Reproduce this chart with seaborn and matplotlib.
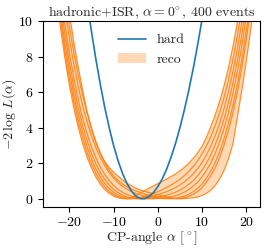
import matplotlib.pyplot as plt
import numpy as np
import pandas as pd
import seaborn as sns
from matplotlib.lines import Line2D
from matplotlib.patches import Patch

# CP angle grid (degrees) shared by the reco pseudo-experiments
alpha_reco = list(range(-23, 23))

reco_1 = [11.58, 9.60, 7.88, 6.39, 5.11, 4.02, 3.10, 2.34, 1.72, 1.22, 0.82, 0.52, 0.30, 0.15, 0.05, 0.01,
          0.00, 0.04, 0.16, 0.32, 0.46, 0.59, 0.72, 0.85, 0.98, 1.11, 1.25, 1.40, 1.57, 1.77, 2.00, 2.27,
          2.58, 2.95, 3.45, 4.07, 4.73, 5.49, 6.37, 7.39, 8.57, 9.92, 11.46, 13.21, 15.19, 17.43]
reco_2 = [12.06, 10.05, 8.30, 6.78, 5.47, 4.35, 3.40, 2.61, 1.96, 1.43, 1.00, 0.67, 0.42, 0.24, 0.11, 0.04,
          0.00, 0.00, 0.03, 0.07, 0.14, 0.21, 0.30, 0.40, 0.51, 0.64, 0.77, 0.93, 1.10, 1.30, 1.54, 1.81,
          2.14, 2.52, 2.97, 3.50, 4.13, 4.86, 5.71, 6.70, 7.85, 9.17, 10.68, 12.40, 14.35, 16.56]
reco_3 = [12.57, 10.54, 8.75, 7.20, 5.86, 4.71, 3.74, 2.92, 2.23, 1.67, 1.22, 0.86, 0.57, 0.36, 0.21, 0.10,
          0.04, 0.01, 0.00, 0.02, 0.05, 0.10, 0.16, 0.23, 0.31, 0.40, 0.51, 0.63, 0.78, 0.95, 1.15, 1.40,
          1.69, 2.04, 2.47, 2.97, 3.56, 4.26, 5.09, 6.05, 7.16, 8.45, 9.93, 11.62, 13.55, 15.72]
reco_4 = [13.13, 11.06, 9.25, 7.67, 6.30, 5.12, 4.11, 3.26, 2.55, 1.96, 1.47, 1.08, 0.77, 0.53, 0.34, 0.21,
          0.11, 0.05, 0.01, 0.00, 0.00, 0.02, 0.05, 0.09, 0.14, 0.20, 0.28, 0.37, 0.49, 0.63, 0.81, 1.02,
          1.29, 1.61, 2.00, 2.47, 3.04, 3.71, 4.50, 5.43, 6.52, 7.78, 9.23, 10.89, 12.78, 14.93]
reco_5 = [13.74, 11.64, 9.80, 8.19, 6.79, 5.58, 4.54, 3.66, 2.92, 2.30, 1.78, 1.36, 1.02, 0.75, 0.53, 0.37,
          0.24, 0.15, 0.09, 0.04, 0.01, 0.00, 0.00, 0.01, 0.03, 0.06, 0.11, 0.17, 0.26, 0.37, 0.52, 0.70,
          0.94, 1.23, 1.59, 2.03, 2.57, 3.21, 3.97, 4.87, 5.93, 7.16, 8.58, 10.21, 12.07, 14.19]
reco_6 = [14.67, 12.54, 10.65, 9.00, 7.56, 6.31, 5.24, 4.32, 3.53, 2.87, 2.32, 1.86, 1.47, 1.16, 0.91, 0.70,
          0.54, 0.41, 0.30, 0.22, 0.15, 0.10, 0.06, 0.03, 0.01, 0.00, 0.01, 0.03, 0.08, 0.15, 0.25, 0.40,
          0.59, 0.84, 1.17, 1.57, 2.06, 2.66, 3.39, 4.25, 5.26, 6.45, 7.83, 9.42, 11.25, 13.32]
reco_7 = [15.45, 13.29, 11.37, 9.69, 8.22, 6.94, 5.84, 4.85, 3.98, 3.22, 2.57, 2.03, 1.60, 1.28, 1.03, 0.84,
          0.68, 0.55, 0.44, 0.35, 0.27, 0.20, 0.15, 0.10, 0.06, 0.03, 0.01, 0.00, 0.02, 0.06, 0.13, 0.25,
          0.41, 0.63, 0.93, 1.30, 1.76, 2.33, 3.03, 3.86, 4.84, 6.00, 7.35, 8.91, 10.71, 12.75]
reco_8 = [15.80, 13.90, 12.10, 10.40, 8.80, 7.40, 6.10, 4.90, 3.90, 3.15, 2.55, 2.10, 1.76, 1.50, 1.28, 1.07,
          0.88, 0.73, 0.60, 0.49, 0.42, 0.35, 0.29, 0.23, 0.17, 0.11, 0.06, 0.02, 0.00, 0.01, 0.03, 0.05,
          0.10, 0.18, 0.30, 0.48, 0.75, 1.12, 1.60, 2.25, 3.10, 4.60, 6.10, 7.70, 9.50, 11.50]

# parton-level ("hard") likelihood scan
alpha_hard = [-16, -15, -14, -13, -12, -11, -10, -9, -8, -7, -6, -5, -4, -3.5, -3, -2, -1,
              0, 1, 2, 3, 4, 5, 6, 7, 8, 9, 10, 11]
nll_hard = [11.11, 9.40, 7.84, 6.42, 5.14, 4.00, 3.00, 2.15, 1.44, 0.87, 0.44, 0.16, 0.02, 0.00, 0.01,
            0.12, 0.35, 0.68, 1.12, 1.67, 2.34, 3.11, 4.00, 5.00, 6.10, 7.32, 8.65, 10.09, 11.64]

sns.set_style("ticks")
plt.rcParams.update({
    "font.family": "serif",
    "font.serif": ["cmr10"],
    "mathtext.fontset": "cm",
    "axes.formatter.use_mathtext": True,
    "font.size": 10,
    "axes.edgecolor": "black",
    "xtick.color": "black",
    "ytick.color": "black",
})

runs = [reco_1, reco_2, reco_3, reco_4, reco_5, reco_6, reco_7, reco_8]
reco = pd.DataFrame({
    "alpha": alpha_reco * len(runs),
    "nll": np.concatenate(runs),
    "run": np.repeat(np.arange(len(runs)), len(alpha_reco)),
})
band = np.array(runs)

fig, ax = plt.subplots(figsize=(2.66, 2.5), dpi=100)
fig.subplots_adjust(left=0.163, right=0.977, bottom=0.173, top=0.915)

ax.fill_between(alpha_reco, band.min(axis=0), band.max(axis=0), color="C1", alpha=0.3, lw=0)
sns.lineplot(data=reco, x="alpha", y="nll", units="run", estimator=None, color="C1",
             lw=0.9, alpha=0.85, ax=ax, legend=False)
sns.lineplot(x=alpha_hard, y=nll_hard, color="C0", lw=1.2, ax=ax, legend=False)

ax.set_xlim(-25.9, 23.1)
ax.set_ylim(-0.45, 10)
ax.set_xticks([-20, -10, 0, 10, 20])
ax.set_yticks([0, 2, 4, 6, 8, 10])
ax.set_xlabel(r"CP-angle $\alpha$ [$^\circ$]", labelpad=-0.5)
ax.set_ylabel(r"$-2\,\log\,L(\alpha)$", labelpad=0.5)
ax.set_title(r"hadronic+ISR, $\alpha=0\!^\circ$, 400 events", fontsize=10, pad=3)

handles = [Line2D([], [], color="C0", lw=1.2), Patch(facecolor="C1", alpha=0.3, lw=0)]
ax.legend(handles, ["hard", "reco"], loc="upper center", frameon=False)

fig.savefig("out.png", dpi=100)
